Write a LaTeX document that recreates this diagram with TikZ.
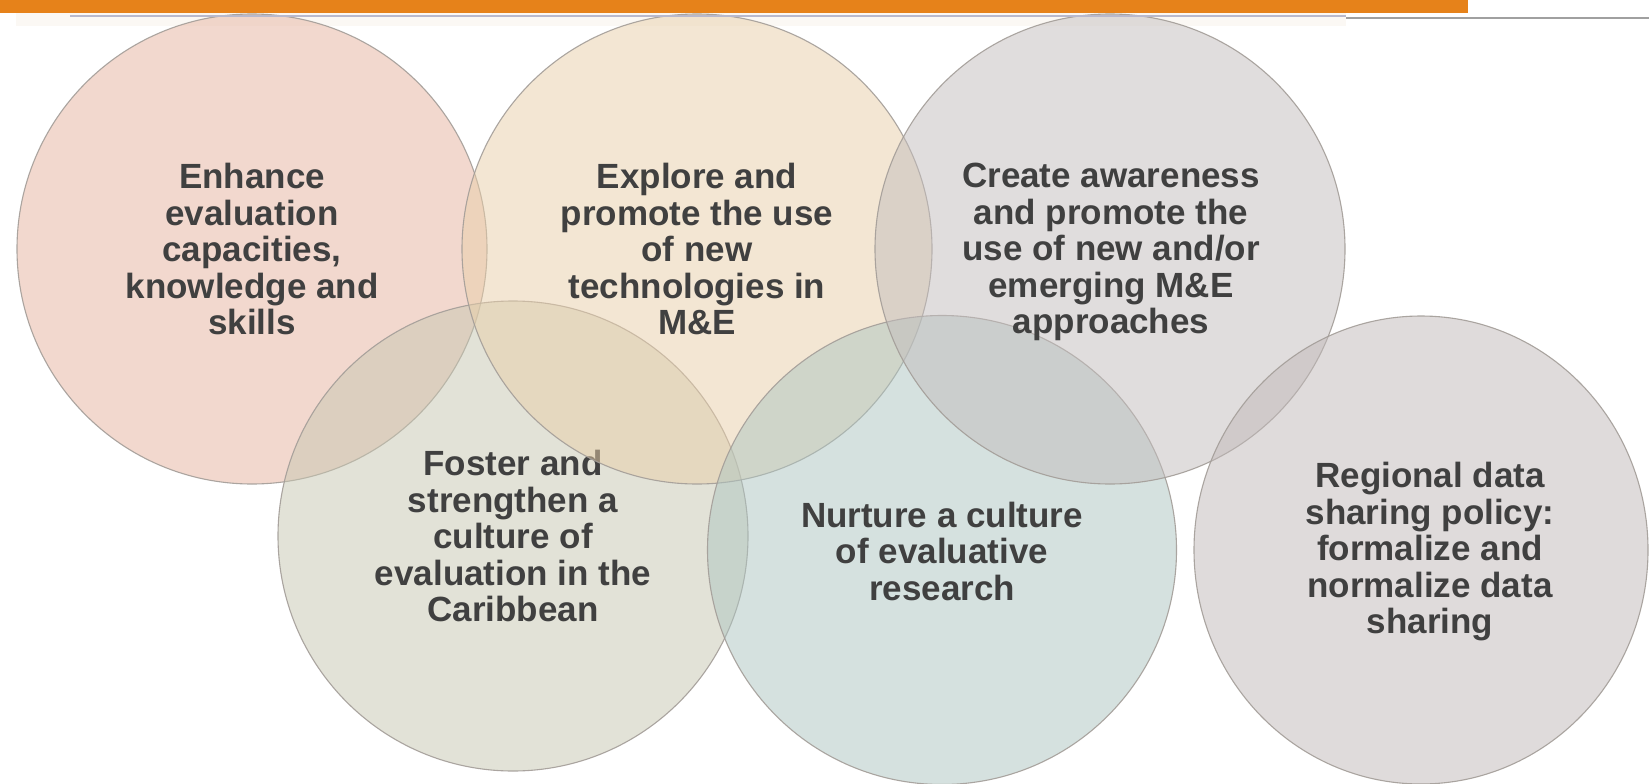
\documentclass[tikz,border=0pt]{standalone}
\usepackage{fontspec}
\usetikzlibrary{shapes.geometric}
\setmainfont{Liberation Sans}
\definecolor{barorange}{HTML}{E6821A}
\definecolor{txtgray}{HTML}{404040}
\definecolor{rimgray}{HTML}{A39D98}
\definecolor{cA}{HTML}{E7B39F}
\definecolor{cB}{HTML}{E9CFA9}
\definecolor{cC}{HTML}{C3BDBD}
\definecolor{cD}{HTML}{C7C7B1}
\definecolor{cE}{HTML}{ADC5C1}
\definecolor{cF}{HTML}{C1B9B9}
\definecolor{paleband}{HTML}{FBF8F4}
\definecolor{lavline}{HTML}{B9B9CC}
\definecolor{grayline}{HTML}{A0A0A0}
\tikzset{
  bubble/.style={circle, minimum size=470pt, inner sep=0pt, draw=rimgray, line width=1.1pt,
    fill opacity=0.5, draw opacity=0.9},
  oval/.style={ellipse, inner sep=0pt, draw=rimgray, line width=1.1pt,
    fill opacity=0.5, draw opacity=0.9},
  label text/.style={text=txtgray, align=center, inner sep=0pt,
    font=\fontsize{35}{36.5}\selectfont\bfseries},
}
\begin{document}
\begin{tikzpicture}[x=1pt,y=-1pt]
\useasboundingbox (0,0) rectangle (1649,784);
\fill[white] (0,0) rectangle (1649,784);
\fill[paleband] (16,12) rectangle (1346,26);
\node[bubble, fill=cA] (c1) at (252,249) {};
\node[label text] (t1) at (252,249) {Enhance\\evaluation\\capacities,\\knowledge and\\skills};
\node[bubble, fill=cD] (c4) at (513,536) {};
\node[label text] (t4) at (513,536) {Foster and\\strengthen a\\culture of\\evaluation in the\\Caribbean};
\node[bubble, fill=cB] (c2) at (697,249) {};
\node[label text] (t2) at (697,249) {Explore and\\promote the use\\of new\\technologies in\\M\&E};
\node[bubble, fill=cE, minimum size=469pt] (c5) at (942,550) {};
\node[label text] (t5) at (942,551) {Nurture a culture\\of evaluative\\research};
\node[bubble, fill=cC] (c3) at (1110,249) {};
\node[label text] (t3) at (1111,252) {Create awareness\\and promote the\\use of new and/or\\emerging M\&E\\approaches};
\node[oval, fill=cF, minimum width=454pt, minimum height=468pt] (c6) at (1421,550) {};
\node[label text] (t6) at (1430,552) {Regional data\\sharing policy:\\formalize and\\normalize data\\sharing};
\fill[barorange] (0,0) rectangle (1468,13);
\fill[barorange] (0,0) rectangle (16,13.5);
\coordinate (la) at (70,16);
\coordinate (lb) at (1346,16);
\coordinate (lc) at (1346,18);
\coordinate (ld) at (1649,18);
\draw[lavline, line width=1.8pt] (la) -- (lb);
\draw[grayline, line width=1.4pt] (lc) -- (ld);
\end{tikzpicture}
\end{document}
